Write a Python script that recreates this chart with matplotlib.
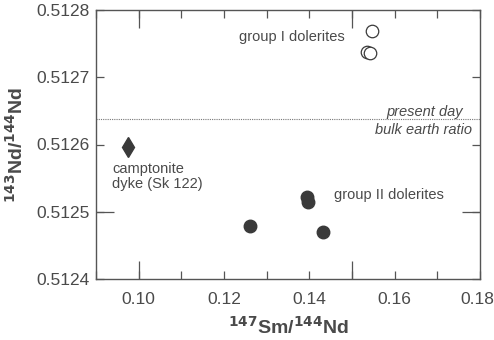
import matplotlib.pyplot as plt
from matplotlib.ticker import MultipleLocator, FixedLocator

plt.rcParams['font.family'] = ['Liberation Sans', 'DejaVu Sans']
plt.rcParams['mathtext.default'] = 'bf'

# group I dolerites (open circles)
g1_sm = [0.1546, 0.1535, 0.1543]
g1_nd = [0.512769, 0.512738, 0.512736]

# group II dolerites (filled circles)
g2_sm = [0.1260, 0.1395, 0.1397, 0.1432]
g2_nd = [0.512479, 0.512522, 0.512515, 0.512470]

# camptonite dyke
cd_sm = [0.0976]
cd_nd = [0.512596]

chur = 0.512638

x_labels = {0.10: '0.10', 0.12: '0.12', 0.14: '0.14', 0.16: '0.16'}

fig = plt.figure(figsize=(4.94, 3.40), dpi=100)
ax = fig.add_axes([0.1943, 0.1794, 0.7774, 0.7912])

dark = '#3a3a3a'
txt = '#4a4a4a'

ax.plot(g1_sm, g1_nd, 'o', ms=9, mfc='white', mec=dark, mew=0.9)
ax.plot(g2_sm, g2_nd, 'o', ms=9, mfc=dark, mec=dark)
ax.plot(cd_sm, cd_nd, 'd', ms=10, mfc=dark, mec=dark)

ax.axhline(chur, color='#777777', ls=(0, (1, 1)), lw=0.8)

ax.set_xlim(0.09, 0.18)
ax.set_ylim(0.5124, 0.5128)

# short inward ticks every 0.01 / 0.0001
ax.xaxis.set_major_locator(MultipleLocator(0.01))
ax.yaxis.set_major_locator(MultipleLocator(0.0001))
ax.xaxis.set_major_formatter(lambda v, pos: next((s for k, s in x_labels.items() if abs(k - v) < 1e-6), ''))
ax.yaxis.set_major_formatter(lambda v, pos: f'{v:.4f}')
ax.tick_params(which='major', direction='in', length=6, width=0.9, color='#555555',
               top=True, right=True, labelsize=12.5, labelcolor=txt)
ax.tick_params(axis='x', which='major', pad=9)
ax.tick_params(axis='y', which='major', pad=4.3)

# last x label sits just inside the figure edge
ax.annotate('0.18', xy=(0.1793, 0), xycoords=('data', 'axes fraction'),
            xytext=(0, -9), textcoords='offset points', ha='center', va='top',
            fontsize=12.5, color=txt, annotation_clip=False)

# longer ticks at 0.10, 0.15 and 0.5125
ax.xaxis.remove_overlapping_locs = False
ax.yaxis.remove_overlapping_locs = False
ax.xaxis.set_minor_locator(FixedLocator([0.10, 0.15]))
ax.yaxis.set_minor_locator(FixedLocator([0.5125]))
ax.tick_params(which='minor', direction='in', length=13, width=0.9, color='#555555',
               top=True, right=True, labelbottom=False, labelleft=False)

for s in ax.spines.values():
    s.set_color('#555555')
    s.set_linewidth(1.0)

ax.set_xlabel('$^{147}$Sm/$^{144}$Nd', fontsize=14, fontweight='bold', color=txt, labelpad=7)
ax.set_ylabel('$^{143}$Nd/$^{144}$Nd', fontsize=14, fontweight='bold', color=txt, labelpad=7)

ax.text(0.1482, 0.51276, 'group I dolerites', fontsize=10.5, color=txt, ha='right', va='center')
ax.text(0.1759, 0.512649, 'present day', fontsize=10.5, color=txt, style='italic',
        ha='right', va='center')
ax.text(0.1781, 0.512621, 'bulk earth ratio', fontsize=10.5, color=txt, style='italic',
        ha='right', va='center')
ax.text(0.0938, 0.512552, 'camptonite\ndyke (Sk 122)', fontsize=10.5, color=txt,
        ha='left', va='center', linespacing=1.1)
ax.text(0.1458, 0.512525, 'group II dolerites', fontsize=10.5, color=txt, ha='left', va='center')

fig.savefig('out.png', dpi=100)
